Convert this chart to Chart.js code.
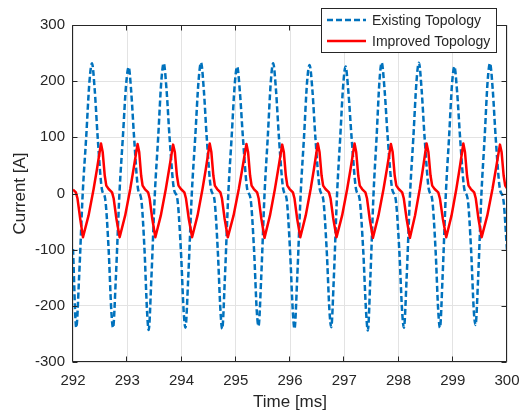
<!DOCTYPE html>
<html>
<head>
<meta charset="utf-8">
<script src="https://cdn.jsdelivr.net/npm/chart.js@4.4.0/dist/chart.umd.min.js"></script>
<style>
  html, body { margin: 0; padding: 0; background: #fff; }
  #wrap { width: 523px; height: 413px; }
</style>
</head>
<body>
<div id="wrap"><canvas id="chart" width="523" height="413"></canvas></div>
<script>
// tick values
const xTicks = [292, 293, 294, 295, 296, 297, 298, 299, 300];
const yTicks = [-300, -200, -100, 0, 100, 200, 300];

// Existing Topology (blue dashed), time in ms / current in A
const blueTime = [
    292.000, 292.060, 292.112, 292.179, 292.243, 292.304, 292.350, 292.400, 292.455, 292.532, 292.594, 292.657, 292.707,
    292.738, 292.790, 292.856, 292.919, 292.980, 293.026, 293.074, 293.126, 293.199, 293.258, 293.318, 293.365,
    293.395, 293.445, 293.509, 293.570, 293.628, 293.672, 293.724, 293.780, 293.860, 293.924, 293.988, 294.040,
    294.072, 294.124, 294.190, 294.253, 294.314, 294.360, 294.411, 294.465, 294.543, 294.606, 294.668, 294.719,
    294.750, 294.800, 294.863, 294.924, 294.982, 295.026, 295.077, 295.132, 295.211, 295.274, 295.337, 295.388,
    295.420, 295.469, 295.531, 295.590, 295.647, 295.690, 295.741, 295.796, 295.875, 295.938, 296.000, 296.052,
    296.083, 296.133, 296.197, 296.258, 296.316, 296.360, 296.412, 296.468, 296.548, 296.612, 296.676, 296.728,
    296.760, 296.808, 296.868, 296.926, 296.982, 297.024, 297.077, 297.135, 297.217, 297.283, 297.349, 297.402,
    297.435, 297.481, 297.540, 297.596, 297.649, 297.690, 297.743, 297.801, 297.883, 297.948, 298.014, 298.067,
    298.100, 298.150, 298.213, 298.274, 298.332, 298.376, 298.426, 298.481, 298.558, 298.620, 298.683, 298.733,
    298.764, 298.812, 298.873, 298.932, 298.987, 299.030, 299.081, 299.135, 299.213, 299.276, 299.338, 299.389,
    299.420, 299.468, 299.529, 299.588, 299.643, 299.686, 299.737, 299.791, 299.869, 299.932, 300.000
];
const blueCurrent = [
    -99, -239, -150, 0, 100, 200, 232, 185, 100, 8, -10, -100, -210,
    -239, -150, 0, 100, 195, 225, 180, 100, 8, -10, -100, -210,
    -243, -150, 0, 100, 200, 232, 185, 100, 8, -10, -100, -210,
    -239, -150, 0, 100, 200, 233, 185, 100, 8, -10, -100, -210,
    -241, -150, 0, 100, 195, 226, 180, 100, 8, -10, -100, -210,
    -236, -150, 0, 100, 200, 232, 185, 100, 8, -10, -100, -210,
    -241, -150, 0, 100, 200, 229, 185, 100, 8, -10, -100, -210,
    -238, -150, 0, 100, 195, 226, 180, 100, 8, -10, -100, -210,
    -244, -150, 0, 100, 200, 233, 185, 100, 8, -10, -100, -210,
    -239, -150, 0, 100, 200, 233, 185, 100, 8, -10, -100, -210,
    -239, -150, 0, 100, 195, 226, 180, 100, 8, -10, -100, -210,
    -234, -150, 0, 100, 200, 232, 185, 100, 8, -10, -100
];

// Improved Topology (red solid)
const redTime = [
    292.000, 292.053, 292.083, 292.133, 292.184,
    292.287, 292.380, 292.443, 292.516, 292.547, 292.585, 292.614, 292.657, 292.720, 292.750, 292.800, 292.860,
    292.962, 293.055, 293.117, 293.190, 293.220, 293.256, 293.283, 293.324, 293.385, 293.413, 293.461, 293.518,
    293.619, 293.711, 293.773, 293.845, 293.877, 293.915, 293.945, 293.989, 294.053, 294.083, 294.134, 294.195,
    294.296, 294.387, 294.449, 294.520, 294.550, 294.587, 294.615, 294.657, 294.717, 294.746, 294.795, 294.853,
    294.960, 295.056, 295.121, 295.197, 295.227, 295.264, 295.292, 295.334, 295.394, 295.423, 295.472, 295.530,
    295.631, 295.722, 295.784, 295.856, 295.886, 295.923, 295.951, 295.993, 296.054, 296.083, 296.132, 296.190,
    296.290, 296.381, 296.442, 296.513, 296.544, 296.582, 296.611, 296.654, 296.718, 296.748, 296.798, 296.858,
    296.961, 297.054, 297.117, 297.190, 297.220, 297.258, 297.286, 297.329, 297.390, 297.420, 297.469, 297.528,
    297.631, 297.724, 297.787, 297.860, 297.892, 297.930, 297.960, 298.004, 298.068, 298.098, 298.149, 298.210,
    298.305, 298.392, 298.450, 298.518, 298.551, 298.590, 298.621, 298.666, 298.733, 298.764, 298.817, 298.880,
    298.978, 299.066, 299.126, 299.195, 299.225, 299.263, 299.291, 299.334, 299.395, 299.425, 299.474, 299.533,
    299.637, 299.732, 299.796, 299.870, 299.900, 299.938, 299.967, 300.000
];
const redCurrent = [
    7, 2, -9, -45, -78,
    -39, 8, 44, 89, 74, 32, 14, 8, 2, -9, -45, -78,
    -39, 8, 44, 88, 74, 32, 14, 8, 2, -9, -45, -78,
    -39, 8, 44, 87, 74, 32, 14, 8, 2, -9, -45, -78,
    -39, 8, 44, 89, 74, 32, 14, 8, 2, -9, -45, -78,
    -39, 8, 44, 88, 74, 32, 14, 8, 2, -9, -45, -79,
    -39, 8, 44, 87, 74, 32, 14, 8, 2, -9, -45, -78,
    -39, 8, 44, 89, 74, 32, 14, 8, 2, -9, -45, -78,
    -39, 8, 44, 89, 74, 32, 14, 8, 2, -9, -45, -79,
    -39, 8, 44, 88, 74, 32, 14, 8, 2, -9, -45, -79,
    -39, 8, 44, 89, 74, 32, 14, 8, 2, -9, -45, -78,
    -39, 8, 44, 89, 74, 32, 14, 8, 2, -9, -45, -78,
    -39, 8, 44, 87, 74, 32, 14, 9
];

if (blueTime.length !== blueCurrent.length || redTime.length !== redCurrent.length) {
    throw new Error('length mismatch ' + blueTime.length + '/' + blueCurrent.length + ' ' + redTime.length + '/' + redCurrent.length);
}

const FONT = '"Liberation Sans", Arial, Helvetica, sans-serif';
const TEXT = '#262626';
Chart.defaults.font.family = FONT;

function toPoints(xs, ys) {
    return xs.map((x, i) => ({ x: x, y: ys[i] }));
}

// box around the axes with inward ticks on all four sides
const axesBox = {
    id: 'axesBox',
    afterDatasetsDraw(chart) {
        const { ctx, chartArea: a, scales: { x, y } } = chart;
        const L = Math.round(a.left) - 0.5, R = Math.round(a.right) - 0.5;
        const T = Math.round(a.top) + 0.5, B = Math.round(a.bottom) - 0.5;
        ctx.save();
        ctx.strokeStyle = TEXT;
        ctx.lineWidth = 1;
        ctx.beginPath();
        ctx.rect(L, T, R - L, B - T);
        xTicks.forEach(v => {
            const px = Math.round(x.getPixelForValue(v)) - 0.5;
            ctx.moveTo(px, B); ctx.lineTo(px, B - 5);
            ctx.moveTo(px, T); ctx.lineTo(px, T + 5);
        });
        yTicks.forEach(v => {
            const py = Math.round(y.getPixelForValue(v)) + 0.5;
            ctx.moveTo(L, py); ctx.lineTo(L + 5, py);
            ctx.moveTo(R, py); ctx.lineTo(R - 5, py);
        });
        ctx.stroke();
        ctx.restore();
    }
};

// legend box in the top right corner, drawn over the frame
const boxLegend = {
    id: 'boxLegend',
    afterDraw(chart) {
        const ctx = chart.ctx;
        const bx = 321.5, by = 8.5, bw = 175, bh = 44;
        ctx.save();
        ctx.fillStyle = '#fff';
        ctx.fillRect(bx, by, bw, bh);
        ctx.strokeStyle = TEXT;
        ctx.lineWidth = 1;
        ctx.strokeRect(bx, by, bw, bh);
        const rows = [20, 41];
        chart.data.datasets.forEach((ds, i) => {
            const ly = rows[i];
            ctx.strokeStyle = ds.borderColor;
            ctx.lineWidth = ds.borderWidth;
            ctx.setLineDash(ds.borderDash || []);
            ctx.beginPath();
            ctx.moveTo(327, ly);
            ctx.lineTo(366, ly);
            ctx.stroke();
            ctx.setLineDash([]);
            ctx.fillStyle = TEXT;
            ctx.font = '14px ' + FONT;
            ctx.textBaseline = 'middle';
            ctx.textAlign = 'left';
            ctx.fillText(ds.label, 372, ly + 1);
        });
        ctx.restore();
    }
};

new Chart(document.getElementById('chart'), {
    type: 'line',
    data: {
        datasets: [
            {
                label: 'Existing Topology',
                data: toPoints(blueTime, blueCurrent),
                borderColor: '#0072BD',
                borderWidth: 2.5,
                borderDash: [6, 3],
                cubicInterpolationMode: 'monotone',
                pointRadius: 0,
                fill: false,
                order: 2
            },
            {
                label: 'Improved Topology',
                data: toPoints(redTime, redCurrent),
                borderColor: '#FF0000',
                borderWidth: 2.5,
                borderJoinStyle: 'round',
                tension: 0,
                pointRadius: 0,
                fill: false,
                order: 1
            }
        ]
    },
    options: {
        responsive: false,
        animation: false,
        layout: { padding: { left: 0, right: 16, top: 25, bottom: 0 } },
        plugins: {
            legend: { display: false },
            tooltip: { enabled: false }
        },
        scales: {
            x: {
                type: 'linear',
                min: 292,
                max: 300,
                afterBuildTicks: s => { s.ticks = xTicks.map(v => ({ value: v })); },
                afterFit: s => { s.height = 51; s.paddingLeft = 0; s.paddingRight = 0; },
                grid: { color: '#e3e3e3', drawTicks: false },
                border: { display: false },
                ticks: { color: TEXT, font: { size: 15 }, padding: 10, maxRotation: 0 },
                title: { display: true, text: 'Time [ms]', color: TEXT, font: { size: 17 }, padding: 0 }
            },
            y: {
                type: 'linear',
                min: -300,
                max: 300,
                afterBuildTicks: s => { s.ticks = yTicks.map(v => ({ value: v })); },
                afterFit: s => { s.width = 73; s.paddingTop = 0; s.paddingBottom = 0; },
                grid: { color: '#e3e3e3', drawTicks: false },
                border: { display: false },
                ticks: { color: TEXT, font: { size: 15 }, padding: 8 },
                title: { display: true, text: 'Current [A]', color: TEXT, font: { size: 17 }, padding: { top: 10, bottom: 0 } }
            }
        }
    },
    plugins: [axesBox, boxLegend]
});
</script>
</body>
</html>
